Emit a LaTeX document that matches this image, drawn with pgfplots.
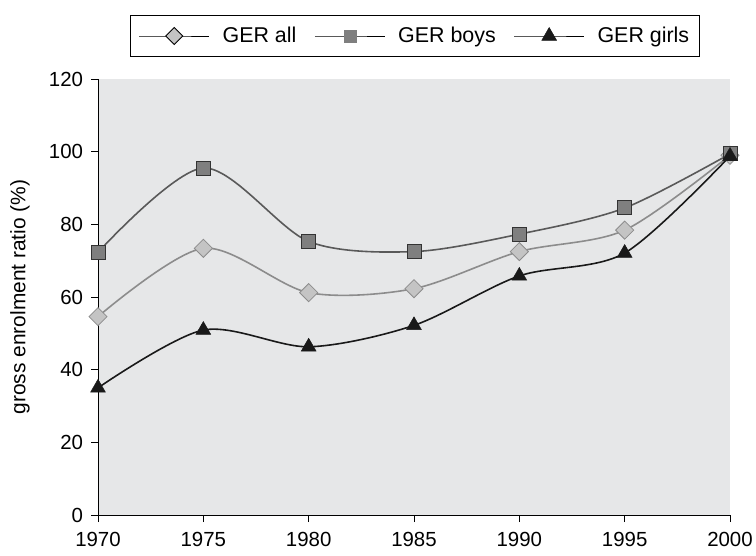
\documentclass[border=0pt]{standalone}
\usepackage{pgfplots}
\pgfplotsset{compat=1.18}
\usepackage{fontspec}
\setmainfont{Liberation Sans}
\definecolor{bggray}{HTML}{E6E7E8}
\definecolor{boysline}{HTML}{595959}
\definecolor{boysfill}{HTML}{7F7F7F}
\definecolor{allline}{HTML}{8C8C8C}
\definecolor{allfill}{HTML}{C4C4C4}
\begin{document}
\fontsize{20.5}{24}\selectfont
\begin{tikzpicture}
\begin{axis}[
  scale only axis,
  width=632bp, height=436bp,
  xmin=1970, xmax=2000, ymin=0, ymax=120,
  xtick={1970,1975,...,2000},
  ytick={0,20,...,120},
  /pgf/number format/1000 sep={},
  /pgf/number format/assume math mode=true,
  axis x line=bottom, axis y line=left,
  axis line style={-, line width=1pt, black},
  tick style={black, line width=0.8pt},
  tick align=outside,
  major tick length=7bp,
  axis background/.style={fill=bggray},
  ticklabel style={font=\fontsize{20.5}{24}\selectfont},
  xticklabel style={yshift=-3bp},
  yticklabel style={xshift=-1bp},
  ylabel={gross enrolment ratio (\%)},
  ylabel style={font=\fontsize{21}{25}\selectfont, at={(axis description cs:-0.1234,0.5)}, anchor=center},
  clip=false,
  legend columns=3,
  legend style={at={(0.5016,1.0986)}, anchor=center, draw=black, line width=0.8pt,
    font=\fontsize{21.5}{25}\selectfont, inner xsep=8bp, inner ysep=9bp,
    /tikz/every odd column/.append style={column sep=11bp},
    /tikz/every even column/.append style={column sep=16bp}},
  legend image code/.code={%
    \draw[mark repeat=2, mark phase=2, #1] plot coordinates {(0bp,0bp) (35bp,0bp) (70bp,0bp)};},
]
\addplot[forget plot, smooth, color=allline, line width=1.6pt, mark=square*, mark size=6.4bp,
  mark options={rotate=45, fill=allfill, draw=allline, line width=0.8pt}]
  coordinates {(1970,54.6) (1975,73.4) (1980,61.2) (1985,62.3) (1990,72.5) (1995,78.4) (2000,99.0)};
\addplot[forget plot, smooth, color=boysline, line width=1.6pt, mark=square*, mark size=7bp,
  mark options={fill=boysfill, draw=black!80, line width=1pt}]
  coordinates {(1970,72.3) (1975,95.5) (1980,75.3) (1985,72.5) (1990,77.3) (1995,84.5) (2000,99.4)};
\addplot[forget plot, smooth, color=black!90, line width=1.6pt, mark=triangle*, mark size=8.5bp,
  mark options={fill=black!90, draw=black!90, line width=0.5pt}]
  coordinates {(1970,35.0) (1975,50.9) (1980,46.3) (1985,52.2) (1990,65.8) (1995,72.1) (2000,98.8)};
\addlegendimage{black, line width=0.8pt, mark=square*, mark size=6bp,
  mark options={rotate=45, fill=allfill, draw=black, line width=0.8pt}}
\addlegendentry{GER all}
\addlegendimage{black, line width=0.8pt, mark=square*, mark size=6bp,
  mark options={fill=boysfill, draw=boysfill, line width=0.5pt}}
\addlegendentry{GER boys}
\addlegendimage{black, line width=0.8pt, mark=triangle*, mark size=8.5bp,
  mark options={fill=black!90, draw=black!90, line width=0.5pt}}
\addlegendentry{GER girls}
\end{axis}
\pgfresetboundingbox
\path ([shift={(-98bp,-41bp)}]current axis.south west) rectangle ([shift={(658bp,515bp)}]current axis.south west);
\end{tikzpicture}
\end{document}
